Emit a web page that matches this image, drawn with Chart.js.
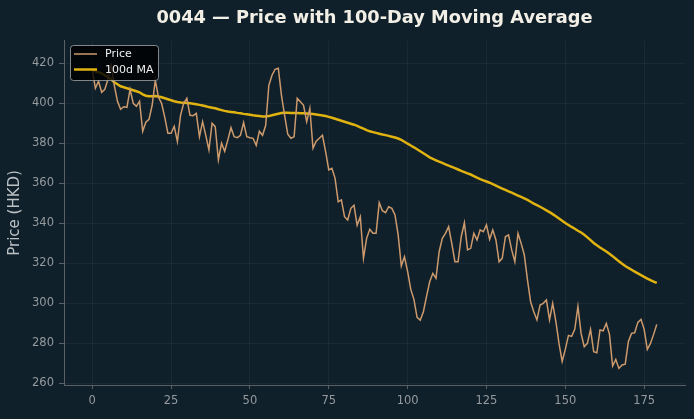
<!DOCTYPE html>
<html>
<head>
<meta charset="utf-8">
<script src="https://cdn.jsdelivr.net/npm/chart.js@4.4.1/dist/chart.umd.min.js"></script>
<style>
  html, body { margin: 0; padding: 0; background: #10202a; }
  #wrap { width: 694px; height: 419px; position: relative; }
</style>
</head>
<body>
<div id="wrap"><canvas id="c" width="694" height="419"></canvas></div>
<script>
const titleText = "0044 — Price with 100-Day Moving Average";
const yAxisLabel = "Price (HKD)";
const seriesNames = ["Price", "100d MA"];
const xTickValues = [0, 25, 50, 75, 100, 125, 150, 175];
const yTickValues = [260, 280, 300, 320, 340, 360, 380, 400, 420];

const priceValues = [
  417, 407.5, 411, 405.5, 407, 412, 419, 409, 401, 397,
  398.3, 398, 407, 400, 398.5, 401, 386, 390.5, 392, 399,
  411.5, 403, 400, 393, 385, 385, 388.5, 381, 394, 400,
  402.5, 394, 393.8, 395, 383.3, 390.8, 384, 376.7, 390, 388.3,
  371.7, 380, 376, 381.7, 387.8, 383.3, 382.8, 384, 390.4, 383.3,
  382.8, 382.5, 379, 386, 384, 389, 409, 414, 417, 417.5,
  404, 394, 384.5, 382.5, 383.3, 402.5, 400.8, 399, 390.8, 397.5,
  377.5, 381, 382.5, 384, 375.8, 366.7, 367.5, 362.5, 350.8, 351.7,
  343.3, 341.7, 347.5, 349, 339, 343.3, 322.5, 332.5, 337, 335,
  335, 350.3, 346.3, 345.3, 348.3, 347.5, 344.2, 334.2, 318.7, 323.3,
  316, 307, 302, 293, 291.6, 295.8, 303.5, 310.8, 315, 312.5,
  325.8, 332.5, 335, 338.3, 330, 320.8, 320.8, 333.3, 340.3, 326.7,
  327.5, 335, 331.7, 336.7, 335.8, 339.2, 332, 336.7, 331.7, 320.8,
  322.5, 333.3, 334.2, 326.7, 320.8, 335, 330, 324.2, 311.7, 300.8,
  295.8, 291.7, 299.2, 300, 301.7, 291.7, 300, 291, 280, 271,
  277, 284, 283.5, 287, 298.5, 285, 278.3, 280, 287, 275.8,
  275.3, 286.7, 286.3, 290, 284.5, 268.7, 272, 267.5, 269.2, 269.6,
  281, 285, 285.3, 290.5, 292, 287, 277, 280, 284.5, 289.5
];

const maValues = [
  416.5, 416, 415.5, 415, 414, 413, 412, 410.5, 409.5, 408.5,
  408, 407.5, 407, 406.5, 406, 405.5, 404.5, 403.8, 403.5, 403.5,
  403.6, 403.4, 403, 402.5, 402, 401.5, 401, 400.6, 400.4, 400.3,
  400.2, 400, 399.8, 399.5, 399.2, 398.9, 398.5, 398.1, 397.8, 397.5,
  397, 396.6, 396.2, 395.9, 395.7, 395.5, 395.2, 395, 394.7, 394.5,
  394.3, 394, 393.8, 393.6, 393.4, 393.4, 393.6, 394, 394.4, 394.8,
  395.1, 395.3, 395.3, 395.2, 395.1, 395.1, 395, 395, 394.9, 394.8,
  394.6, 394.4, 394.2, 393.9, 393.6, 393.2, 392.8, 392.3, 391.8, 391.3,
  390.8, 390.3, 389.8, 389.3, 388.7, 388, 387.3, 386.6, 386, 385.6,
  385.2, 384.8, 384.4, 384.1, 383.7, 383.3, 382.9, 382.4, 381.7, 380.8,
  379.8, 378.9, 378, 377, 376, 375, 374, 373, 372.2, 371.5,
  370.8, 370.2, 369.5, 368.8, 368.2, 367.6, 366.9, 366.2, 365.6, 365,
  364.4, 363.6, 362.8, 362.1, 361.5, 360.9, 360.3, 359.6, 358.9, 358.1,
  357.4, 356.7, 356, 355.3, 354.6, 353.9, 353.2, 352.5, 351.7, 350.8,
  349.9, 349.1, 348.3, 347.4, 346.5, 345.6, 344.6, 343.5, 342.4, 341.3,
  340.2, 339.2, 338.2, 337.3, 336.3, 335.4, 334.3, 333, 331.6, 330.2,
  329, 327.9, 326.9, 325.9, 324.8, 323.6, 322.3, 321, 319.8, 318.7,
  317.7, 316.8, 315.9, 315, 314.1, 313.2, 312.4, 311.6, 310.9, 310.2
];

const dayIndex = priceValues.map((_, i) => i);

const colors = {
  bg: '#10202a',
  price: '#cc9a6c',
  ma: '#e0b310',
  grid: 'rgba(255,255,255,0.045)',
  spine: '#5a6166',
  tick: '#949a9e',
  title: '#f2efe6',
  label: '#bcc1c4'
};

Chart.defaults.font.family = "'DejaVu Sans', sans-serif";

const bgPlugin = {
  id: 'bg',
  beforeDraw(chart) {
    const ctx = chart.ctx;
    ctx.save();
    ctx.fillStyle = colors.bg;
    ctx.fillRect(0, 0, chart.width, chart.height);
    ctx.restore();
  }
};

const legendPlugin = {
  id: 'boxLegend',
  afterDatasetsDraw(chart) {
    const ctx = chart.ctx;
    const x = 70.5, y = 45.5, w = 88, h = 35, r = 3;
    ctx.save();
    ctx.beginPath();
    ctx.moveTo(x + r, y);
    ctx.lineTo(x + w - r, y);
    ctx.quadraticCurveTo(x + w, y, x + w, y + r);
    ctx.lineTo(x + w, y + h - r);
    ctx.quadraticCurveTo(x + w, y + h, x + w - r, y + h);
    ctx.lineTo(x + r, y + h);
    ctx.quadraticCurveTo(x, y + h, x, y + h - r);
    ctx.lineTo(x, y + r);
    ctx.quadraticCurveTo(x, y, x + r, y);
    ctx.closePath();
    ctx.fillStyle = 'rgba(0,0,0,0.82)';
    ctx.fill();
    ctx.strokeStyle = 'rgba(170,175,178,0.75)';
    ctx.lineWidth = 1;
    ctx.stroke();
    const rows = [54, 69.5];
    chart.data.datasets.forEach((ds, i) => {
      ctx.beginPath();
      ctx.moveTo(74, rows[i]);
      ctx.lineTo(97, rows[i]);
      ctx.strokeStyle = ds.borderColor;
      ctx.lineWidth = ds.borderWidth;
      ctx.stroke();
      ctx.fillStyle = '#eeeeee';
      ctx.font = "11px 'DejaVu Sans', sans-serif";
      ctx.textBaseline = 'middle';
      ctx.fillText(ds.label, 105, rows[i] + 0.5);
    });
    ctx.restore();
  }
};

new Chart(document.getElementById('c'), {
  type: 'line',
  data: {
    labels: dayIndex,
    datasets: [
      {
        label: seriesNames[0],
        data: dayIndex.map(i => ({ x: i, y: priceValues[i] })),
        borderColor: colors.price,
        borderWidth: 1.5,
        pointRadius: 0,
        tension: 0,
        fill: false
      },
      {
        label: seriesNames[1],
        data: dayIndex.map(i => ({ x: i, y: maValues[i] })),
        borderColor: colors.ma,
        borderWidth: 2.5,
        pointRadius: 0,
        tension: 0,
        fill: false
      }
    ]
  },
  options: {
    responsive: false,
    animation: false,
    devicePixelRatio: 1,
    layout: { padding: { left: 0, right: 9, top: 0, bottom: 0 } },
    plugins: {
      legend: { display: false },
      tooltip: { enabled: false },
      title: {
        display: true,
        text: titleText,
        color: colors.title,
        fullSize: false,
        font: { size: 17.8, weight: 'bold', family: "'DejaVu Sans', sans-serif" },
        padding: { top: 8, bottom: 11.5 }
      }
    },
    scales: {
      x: {
        type: 'linear',
        min: -8.95,
        max: 187.95,
        afterBuildTicks(scale) { scale.ticks = xTickValues.map(v => ({ value: v })); },
        afterFit(scale) { scale.height = 34; },
        grid: { color: colors.grid, tickColor: colors.spine, tickLength: 4, drawTicks: true },
        border: { display: true, color: colors.spine, width: 1 },
        ticks: { color: colors.tick, font: { size: 11.5 }, padding: 5, maxRotation: 0, autoSkip: false }
      },
      y: {
        type: 'linear',
        min: 259.2,
        max: 431.2,
        afterBuildTicks(scale) { scale.ticks = yTickValues.map(v => ({ value: v })); },
        afterFit(scale) { scale.width = 64; },
        grid: { color: colors.grid, tickColor: colors.spine, tickLength: 5, drawTicks: true },
        border: { display: true, color: colors.spine, width: 1 },
        ticks: { color: colors.tick, font: { size: 11.5 }, padding: 5, autoSkip: false },
        title: {
          display: true,
          text: yAxisLabel,
          color: colors.label,
          font: { size: 15 },
          padding: { top: 6, bottom: 0 }
        }
      }
    }
  },
  plugins: [bgPlugin, legendPlugin]
});
</script>
</body>
</html>
